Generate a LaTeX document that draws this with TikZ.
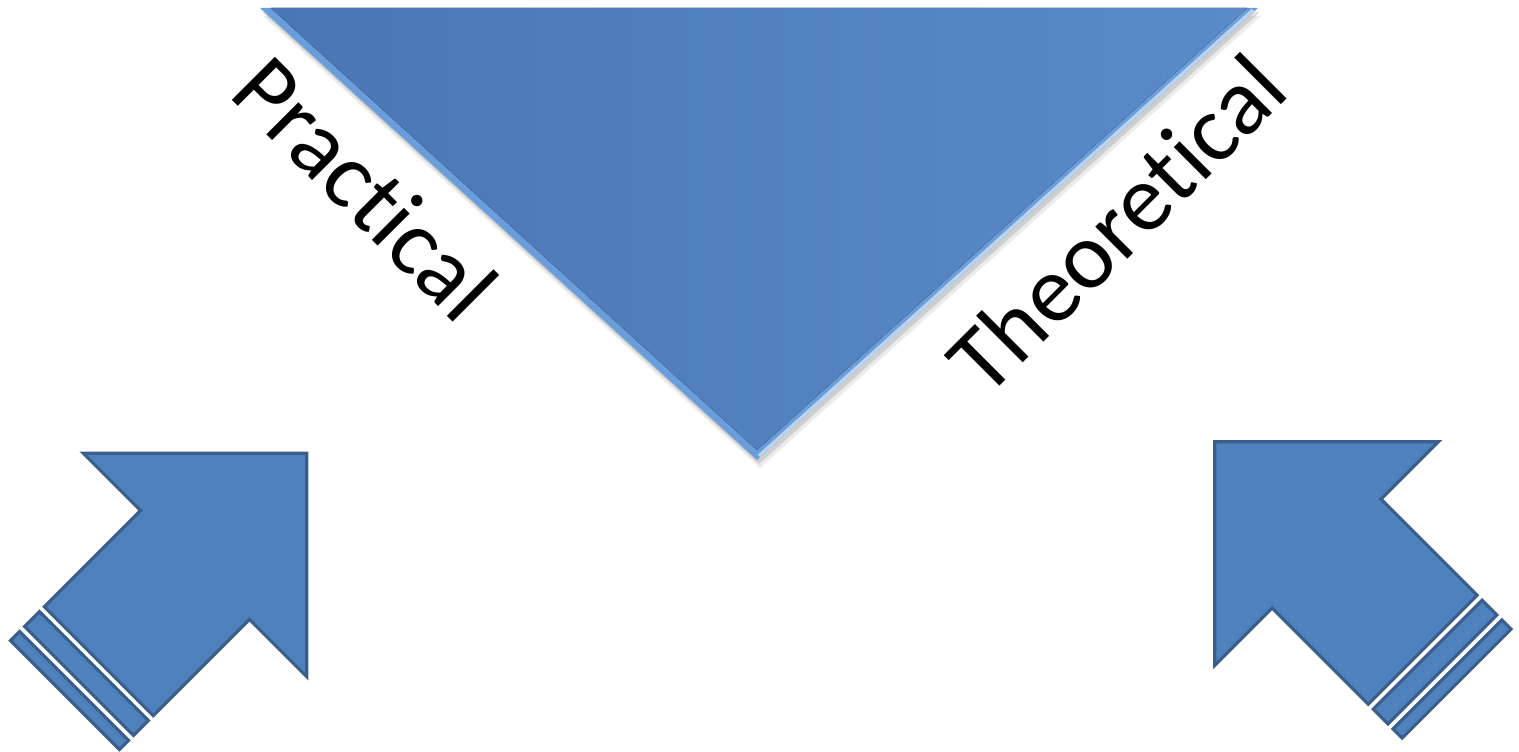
\documentclass[tikz,border=0pt]{standalone}
\usepackage{fontspec}
\setmainfont[Ligatures=NoCommon]{Carlito}
\usetikzlibrary{calc}

\definecolor{triblue}{HTML}{5A8BC8}
\definecolor{tribluedark}{HTML}{4977B4}
\definecolor{bevelblue}{HTML}{6A9EDB}
\definecolor{arrowfill}{HTML}{4F81BD}
\definecolor{arrowline}{HTML}{3A5F8C}

\begin{document}
\begin{tikzpicture}[
    x=0.01cm, y=-0.01cm,
    sidetext/.style={font=\fontsize{27}{32}\selectfont, inner sep=0pt},
    arrowpart/.style={fill=arrowfill, draw=arrowline, line width=0.9pt, line join=miter},
    stripedarrow/.pic={
        \path[arrowpart] (158,0) -- (0,158) -- (0,77) -- (-136,77) -- (-136,-77) -- (0,-77) -- (0,-158) -- cycle;
        \path[arrowpart] (-143,-77) rectangle (-164,77);
        \path[arrowpart] (-171,-77) rectangle (-184,77);
    }
]
    \useasboundingbox (0,0) rectangle (1519,752);

    % Triangle
    \coordinate (tl) at (260,8);
    \coordinate (tr) at (1258,8);
    \coordinate (tb) at (757,460);
    \fill[black, opacity=0.12, transform canvas={xshift=0.02cm, yshift=-0.04cm}] (tl) -- (tr) -- (tb) -- cycle;
    \fill[black, opacity=0.08, transform canvas={xshift=0.03cm, yshift=-0.08cm}] (tl) -- (tr) -- (tb) -- cycle;
    \fill[bevelblue] (tl) -- (tr) -- (tb) -- cycle;
    \fill[left color=tribluedark, right color=triblue]
        ($(tl)+(11,0)$) -- ($(tr)+(-11,0)$) -- ($(tb)+(0,-10)$) -- cycle;
    \draw[white!55!bevelblue, line width=1pt]
        ($(tr)+(-5,2)$) -- ($(tb)+(2,-4)$);

    % Labels
    \node[sidetext, rotate=-45] (practical) at (366,188) {Practical};
    \node[sidetext, rotate=45] (theoretical) at (1116,224) {Theoretical};

    % Arrows
    \pic[rotate=45] at (195,565) {stripedarrow};
    \pic[rotate=135] at (1326.5,553.5) {stripedarrow};
\end{tikzpicture}
\end{document}
